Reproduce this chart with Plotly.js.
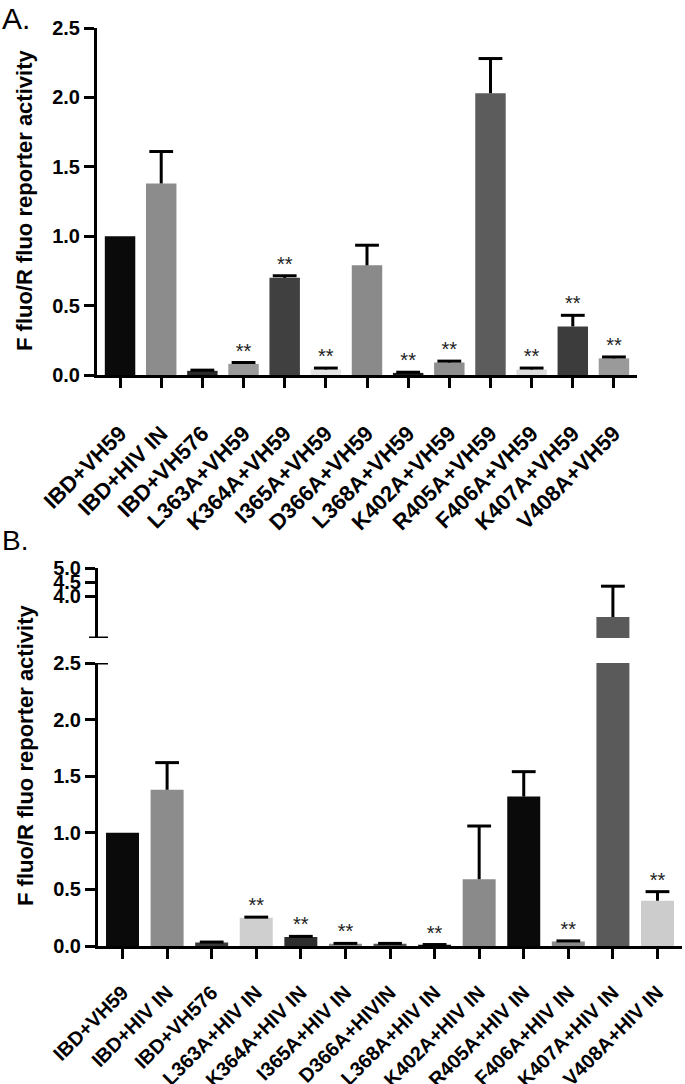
<!DOCTYPE html>
<html>
<head>
<meta charset="utf-8">
<script src="https://cdn.plot.ly/plotly-3.0.1.min.js"></script>
<style>html,body{margin:0;padding:0;background:#fff;}#chart{width:685px;height:1084px;}</style>
</head>
<body>
<div id="chart"></div>
<script>
// ---------- Panel A data ----------
const catsA = ["IBD+VH59","IBD+HIV IN","IBD+VH576","L363A+VH59","K364A+VH59","I365A+VH59","D366A+VH59","L368A+VH59","K402A+VH59","R405A+VH59","F406A+VH59","K407A+VH59","V408A+VH59"];
const valsA = [1.00, 1.38, 0.03, 0.08, 0.70, 0.04, 0.79, 0.015, 0.09, 2.03, 0.04, 0.35, 0.12];
const errA  = [0.00, 0.23, 0.005, 0.01, 0.015, 0.01, 0.145, 0.005, 0.01, 0.25, 0.01, 0.08, 0.01];
const sigA  = [false, false, false, true, true, true, false, true, true, false, true, true, true];
const colorsA = ["#0a0a0a","#8c8c8c","#2a2a2a","#9a9a9a","#404040","#e4e4e4","#8a8a8a","#1a1a1a","#8e8e8e","#5c5c5c","#dcdcdc","#3c3c3c","#9a9a9a"];

// ---------- Panel B data ----------
const catsB = ["IBD+VH59","IBD+HIV IN","IBD+VH576","L363A+HIV IN","K364A+HIV IN","I365A+HIV IN","D366A+HIVIN","L368A+HIV IN","K402A+HIV IN","R405A+HIV IN","F406A+HIV IN","K407A+HIV IN","V408A+HIV IN"];
const valsB = [1.00, 1.38, 0.03, 0.25, 0.08, 0.02, 0.02, 0.01, 0.59, 1.32, 0.04, 3.25, 0.40];
const errB  = [0.00, 0.24, 0.005, 0.005, 0.005, 0.003, 0.003, 0.003, 0.47, 0.22, 0.005, 1.10, 0.08];
const sigB  = [false, false, false, true, true, true, false, true, false, false, true, false, true];
const colorsB = ["#0a0a0a","#8c8c8c","#3a3a3a","#cfcfcf","#2e2e2e","#8a8a8a","#555555","#111111","#8a8a8a","#0a0a0a","#8a8a8a","#5a5a5a","#cccccc"];

// axis ranges / ticks
const yRangeA = [0, 2.5];
const yRangeBlow = [0, 2.5];
const yRangeBhigh = [2.5, 5.0];
const yTicksBhigh = [4.0, 4.5, 5.0];

const FONT = "Liberation Sans, Arial, Helvetica, sans-serif";
const zeros = a => a.map(() => 0);

function bars(cats, vals, errs, colors, xa, ya) {
  return {
    type: "bar", x: cats, y: vals, xaxis: xa, yaxis: ya,
    width: 0.74,
    marker: {color: colors, line: {width: 0}},
    error_y: {type: "data", symmetric: false, array: errs, arrayminus: zeros(errs),
              thickness: 3, width: 0, color: "#000"},
    hoverinfo: "x+y", showlegend: false
  };
}
// upper caps of the error bars (only the top end is capped, GraphPad style)
function caps(cats, vals, errs, xa, ya) {
  const x = [], y = [];
  cats.forEach((c, i) => { if (errs[i] > 0) { x.push(c); y.push(vals[i] + errs[i]); } });
  return {
    type: "scatter", mode: "markers", x: x, y: y, xaxis: xa, yaxis: ya,
    marker: {symbol: "line-ew", size: 17, line: {width: 3, color: "#000"}},
    hoverinfo: "skip", showlegend: false
  };
}
function stars(cats, vals, errs, sig, xa, ya) {
  const x = [], y = [];
  cats.forEach((c, i) => { if (sig[i]) { x.push(c); y.push(vals[i] + errs[i]); } });
  return {
    type: "scatter", mode: "text", x: x, y: y, xaxis: xa, yaxis: ya,
    text: x.map(() => "**"), textposition: "top center",
    textfont: {family: FONT, size: 20, color: "#222"},
    cliponaxis: false, hoverinfo: "skip", showlegend: false
  };
}

const data = [
  bars(catsA, valsA, errA, colorsA, "x", "y"),
  caps(catsA, valsA, errA, "x", "y"),
  stars(catsA, valsA, errA, sigA, "x", "y"),
  bars(catsB, valsB, errB, colorsB, "x2", "y2"),
  caps(catsB, valsB, errB, "x2", "y2"),
  bars(catsB, valsB, errB, colorsB, "x2", "y3"),
  caps(catsB, valsB, errB, "x2", "y3"),
  stars(catsB, valsB, errB, sigB, "x2", "y2")
];

const tickFont = {family: FONT, size: 20, color: "#000", weight: "bold"};
const axCommon = {
  showline: true, linewidth: 3, linecolor: "#000", showgrid: false, zeroline: false,
  ticks: "outside", ticklen: 10, tickwidth: 3, tickcolor: "#000", fixedrange: true
};
const H = 1084, W = 685;

const layout = {
  width: W, height: H,
  margin: {l: 0, r: 0, t: 0, b: 0},
  paper_bgcolor: "#fff", plot_bgcolor: "#fff",
  font: {family: FONT, color: "#000"},
  bargap: 0.26,
  xaxis: Object.assign({}, axCommon, {
    domain: [97 / W, 637 / W], anchor: "y", type: "category",
    range: [-0.56, 12.56], tickangle: -45,
    tickfont: {family: FONT, size: 22, color: "#000", weight: "bold"},
    ticklabelstandoff: 24, automargin: false
  }),
  yaxis: Object.assign({}, axCommon, {
    domain: [1 - 375 / H, 1 - 28 / H], anchor: "x", range: yRangeA, dtick: 0.5, tick0: 0,
    tickformat: ".1f", tickfont: tickFont, automargin: false
  }),
  xaxis2: Object.assign({}, axCommon, {
    domain: [98 / W, 682 / W], anchor: "y2", type: "category",
    range: [-0.55, 12.55], tickangle: -45,
    tickfont: {family: FONT, size: 20, color: "#000", weight: "bold"},
    ticklabelstandoff: 14, automargin: false
  }),
  yaxis2: Object.assign({}, axCommon, {
    domain: [1 - 946 / H, 1 - 663 / H], anchor: "x2", range: yRangeBlow, dtick: 0.5, tick0: 0,
    tickformat: ".1f", tickfont: tickFont, automargin: false
  }),
  yaxis3: Object.assign({}, axCommon, {
    domain: [1 - 638 / H, 1 - 568 / H], anchor: "x2", range: yRangeBhigh,
    tickmode: "array", tickvals: yTicksBhigh, tickformat: ".1f", tickfont: tickFont, automargin: false
  }),
  shapes: [
    {type: "line", xref: "paper", yref: "y3", x0: 89 / W, x1: 108 / W, y0: yRangeBhigh[0], y1: yRangeBhigh[0], line: {color: "#000", width: 3}},
    {type: "line", xref: "paper", yref: "y2", x0: 89 / W, x1: 108 / W, y0: yRangeBlow[1], y1: yRangeBlow[1], line: {color: "#000", width: 3}}
  ],
  annotations: [
    {text: "A.", xref: "paper", yref: "paper", x: 0, y: 1, xanchor: "left", yanchor: "top", showarrow: false,
     font: {family: FONT, size: 30, color: "#000"}},
    {text: "B.", xref: "paper", yref: "paper", x: 0, y: 1 - 523 / H, xanchor: "left", yanchor: "top", showarrow: false,
     font: {family: FONT, size: 28, color: "#000"}},
    {text: "F fluo/R fluo reporter activity", xref: "paper", yref: "paper", x: 25 / W, y: 1 - 201 / H,
     xanchor: "center", yanchor: "middle", textangle: -90, showarrow: false,
     font: {family: FONT, size: 22, color: "#000", weight: "bold"}},
    {text: "F fluo/R fluo reporter activity", xref: "paper", yref: "paper", x: 25 / W, y: 1 - 756 / H,
     xanchor: "center", yanchor: "middle", textangle: -90, showarrow: false,
     font: {family: FONT, size: 22, color: "#000", weight: "bold"}}
  ]
};

Plotly.newPlot("chart", data, layout, {displayModeBar: false, staticPlot: true});
</script>
</body>
</html>
